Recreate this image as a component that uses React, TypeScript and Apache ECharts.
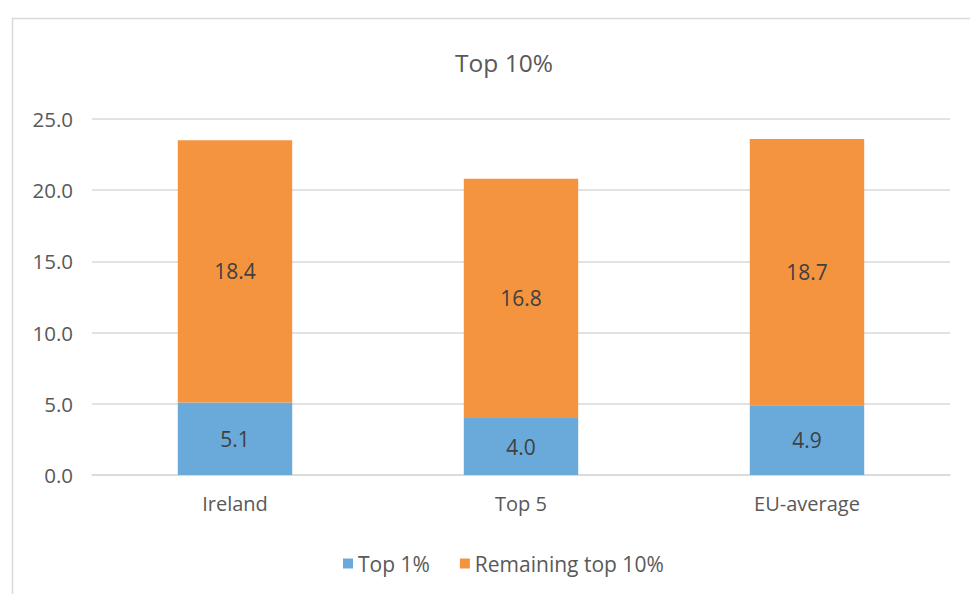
import React, { useEffect, useRef } from "react";
import * as echarts from "echarts";

const categories = ["Ireland", "Top 5", "EU-average"];
const top1 = [5.1, 4.0, 4.9];
const remainingTop10 = [18.4, 16.8, 18.7];
const titleText = "Top 10%";

const FONT = "'Open Sans', 'Noto Sans', sans-serif";

export default function App() {
  const ref = useRef<HTMLDivElement>(null);
  useEffect(() => {
    const chart = echarts.init(ref.current!, null, { renderer: "svg" });
    chart.setOption({
      animation: false,
      backgroundColor: "#ffffff",
      textStyle: { fontFamily: FONT },
      title: {
        text: titleText,
        left: 499,
        textAlign: "center",
        top: 45,
        textStyle: { fontFamily: FONT, fontSize: 24.5, fontWeight: "normal", color: "#595959" },
      },
      graphic: [
        {
          type: "rect",
          shape: { x: 12.5, y: 18.5, width: 1000, height: 1000 },
          style: { fill: "none", stroke: "#d9d9d9", lineWidth: 1.5 },
          silent: true,
        },
      ],
      legend: {
        top: 548,
        left: 338,
        itemWidth: 10,
        itemHeight: 10,
        itemGap: 30,
        icon: "rect",
        textStyle: { fontFamily: FONT, fontSize: 21, color: "#595959" },
        data: ["Top 1%", "Remaining top 10%"],
      },
      grid: { left: 92, right: 20, top: 119, bottom: 119, containLabel: false },
      xAxis: {
        type: "category",
        data: categories,
        axisLine: { show: true, lineStyle: { color: "#d9d9d9", width: 1.5 } },
        axisTick: { show: false },
        axisLabel: { fontFamily: FONT, fontSize: 20, color: "#595959", margin: 18 },
      },
      yAxis: {
        type: "value",
        min: 0,
        max: 25,
        interval: 5,
        axisLine: { show: false },
        axisTick: { show: false },
        splitLine: { lineStyle: { color: "#d9d9d9", width: 1.5 } },
        axisLabel: {
          fontFamily: FONT,
          fontSize: 20.5,
          color: "#595959",
          margin: 19,
          formatter: (v: number) => v.toFixed(1),
        },
      },
      series: [
        {
          name: "Top 1%",
          type: "bar",
          stack: "total",
          barWidth: "40%",
          data: top1,
          itemStyle: { color: "#6aaadb" },
          label: {
            show: true,
            position: "inside",
            fontFamily: FONT,
            fontSize: 21,
            color: "#404040",
            formatter: (p: any) => Number(p.value).toFixed(1),
          },
        },
        {
          name: "Remaining top 10%",
          type: "bar",
          stack: "total",
          barWidth: "40%",
          data: remainingTop10,
          itemStyle: { color: "#f4943f" },
          label: {
            show: true,
            position: "inside",
            fontFamily: FONT,
            fontSize: 21,
            color: "#404040",
            formatter: (p: any) => Number(p.value).toFixed(1),
          },
        },
      ],
    });
    return () => chart.dispose();
  }, []);
  return <div ref={ref} style={{ width: 970, height: 594, position: "absolute", left: 0, top: 0 }} />;
}
